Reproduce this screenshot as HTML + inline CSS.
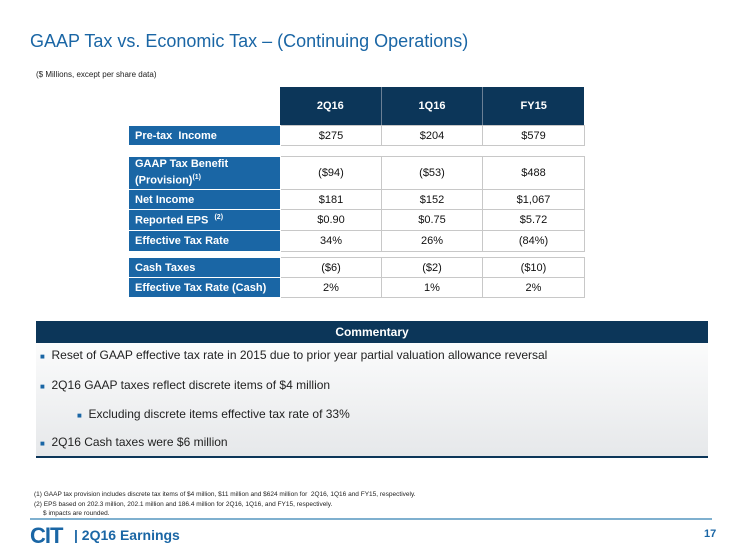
<!DOCTYPE html>
<html><head><meta charset="utf-8"><style>
body{margin:0;width:740px;height:556px;background:#fff;position:relative;overflow:hidden;font-family:"Liberation Sans",Arial,sans-serif}
.a{position:absolute}
.t{position:absolute;left:128px;width:456px;border-collapse:collapse;font-size:11px;table-layout:fixed}
.t td{border:1px solid #c8c8c8;text-align:center;color:#111;padding:0}
.t td.l{background:#1a66a5;color:#fff;font-weight:bold;text-align:left;padding-left:6px;border:1px solid #fff}
.box{border:1.5px solid #222}
</style></head><body>
<div class="a" style="left:30px;top:31px;font-size:18px;color:#1a66a5">GAAP Tax vs. Economic Tax – (Continuing Operations)</div>
<div class="a" style="left:36px;top:70px;font-size:8px;color:#222">($ Millions, except per share data)</div>

<div class="a" style="left:280px;top:87px;width:304px;height:38px;background:#0c3659;color:#fff;font-weight:bold;font-size:11px;display:flex">
<div style="flex:1;text-align:center;line-height:38px;border-right:1px solid #6a7f95">2Q16</div>
<div style="flex:1;text-align:center;line-height:38px;border-right:1px solid #6a7f95">1Q16</div>
<div style="flex:1;text-align:center;line-height:38px">FY15</div></div>

<table class="t box" style="top:125px;height:21px">
<colgroup><col style="width:152px"><col style="width:101px"><col style="width:101px"><col style="width:102px"></colgroup>
<tr><td class="l">Pre-tax&nbsp; Income</td><td>$275</td><td>$204</td><td>$579</td></tr></table>

<table class="t box" style="top:156px;height:96px">
<colgroup><col style="width:152px"><col style="width:101px"><col style="width:101px"><col style="width:102px"></colgroup>
<tr style="height:33px"><td class="l" style="line-height:13px">GAAP Tax Benefit<br>(Provision)<sup style="font-size:7px">(1)</sup></td><td>($94)</td><td>($53)</td><td>$488</td></tr>
<tr style="height:20px"><td class="l">Net Income</td><td>$181</td><td>$152</td><td>$1,067</td></tr>
<tr style="height:21px"><td class="l">Reported EPS &nbsp;<sup style="font-size:7px">(2)</sup></td><td>$0.90</td><td>$0.75</td><td>$5.72</td></tr>
<tr style="height:21px"><td class="l">Effective Tax Rate</td><td>34%</td><td>26%</td><td>(84%)</td></tr></table>

<table class="t box" style="top:257px;height:41px">
<colgroup><col style="width:152px"><col style="width:101px"><col style="width:101px"><col style="width:102px"></colgroup>
<tr><td class="l">Cash Taxes</td><td>($6)</td><td>($2)</td><td>($10)</td></tr>
<tr><td class="l">Effective Tax Rate (Cash)</td><td>2%</td><td>1%</td><td>2%</td></tr></table>

<div class="a" style="left:36px;top:321px;width:672px;height:135px;background:linear-gradient(#fff,#e6e8ea);border-bottom:2px solid #0c3659">
<div style="height:22px;background:#0c3659;color:#fff;font-weight:bold;font-size:12px;text-align:center;line-height:22px">Commentary</div>
<div class="a" style="left:4px;top:27px;font-size:12px;color:#222"><span style="color:#1a66a5;font-size:8px">■</span>&nbsp; Reset of GAAP effective tax rate in 2015 due to prior year partial valuation allowance reversal</div>
<div class="a" style="left:4px;top:57px;font-size:12px;color:#222"><span style="color:#1a66a5;font-size:8px">■</span>&nbsp; 2Q16 GAAP taxes reflect discrete items of $4 million</div>
<div class="a" style="left:41px;top:86px;font-size:12px;color:#222"><span style="color:#1a66a5;font-size:8px">■</span>&nbsp; Excluding discrete items effective tax rate of 33%</div>
<div class="a" style="left:4px;top:114px;font-size:12px;color:#222"><span style="color:#1a66a5;font-size:8px">■</span>&nbsp; 2Q16 Cash taxes were $6 million</div>
</div>

<div class="a" style="left:34px;top:490px;font-size:6.5px;color:#222;line-height:9.5px">(1) GAAP tax provision includes discrete tax items of $4 million, $11 million and $624 million for &nbsp;2Q16, 1Q16 and FY15, respectively.<br>(2) EPS based on 202.3 million, 202.1 million and 186.4 million for 2Q16, 1Q16, and FY15, respectively.<br>&nbsp;&nbsp;&nbsp;&nbsp; $ impacts are rounded.</div>
<div class="a" style="left:30px;top:518px;width:682px;height:2px;background:#7fb0cf"></div>
<div class="a" style="left:30px;top:523px;font-size:22px;font-weight:bold;color:#1a66a5;letter-spacing:-1px">CIT</div>
<div class="a" style="left:74px;top:527px;font-size:14px;font-weight:bold;color:#1a66a5">| 2Q16 Earnings</div>
<div class="a" style="left:704px;top:528px;font-size:11px;font-weight:bold;color:#1a66a5">17</div>
</body></html>
